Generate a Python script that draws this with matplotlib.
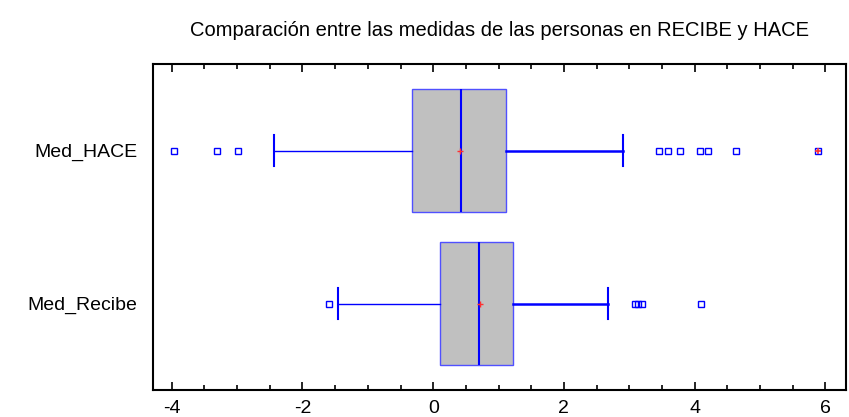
import matplotlib
matplotlib.use('Agg')
import matplotlib.pyplot as plt
from matplotlib.ticker import MultipleLocator

plt.rcParams['font.family'] = ['Liberation Sans', 'DejaVu Sans']
plt.rcParams['axes.unicode_minus'] = False

# valores (Med_Recibe abajo, Med_HACE arriba)
categorias = ['Med_Recibe', 'Med_HACE']
q1 = [0.10, -0.33]
mediana = [0.70, 0.42]
q3 = [1.22, 1.12]
bigote_inf = [-1.46, -2.44]
bigote_sup = [2.67, 2.91]
media = [0.71, 0.41]
atipicos = [
    [-1.60, 3.08, 3.13, 3.20, 4.09],
    [-3.96, -3.31, -2.99, 3.45, 3.60, 3.77, 4.08, 4.20, 4.64, 5.89],
]
muy_atipicos = [[], [5.89]]

stats = []
for i in range(len(categorias)):
    stats.append({'label': categorias[i], 'q1': q1[i], 'med': mediana[i], 'q3': q3[i],
                  'whislo': bigote_inf[i], 'whishi': bigote_sup[i],
                  'mean': media[i], 'fliers': atipicos[i]})

fig = plt.figure(figsize=(8.49, 4.17), dpi=100)
ax = fig.add_axes([0.180, 0.0647, 0.816, 0.7813])

azul = '#0000ff'
bp = ax.bxp(stats, positions=[1, 2], vert=False, widths=0.8, patch_artist=True,
            showmeans=True, capwidths=0.2,
            boxprops=dict(facecolor='#c0c0c0', edgecolor='#5050ff', linewidth=1.0),
            medianprops=dict(color=azul, linewidth=1.5),
            whiskerprops=dict(color=azul, linewidth=1.0),
            capprops=dict(color=azul, linewidth=1.5),
            flierprops=dict(marker='s', markersize=4, markerfacecolor='none',
                            markeredgecolor=azul, markeredgewidth=1.0),
            meanprops=dict(marker='+', markersize=5, markeredgecolor='#ff3030',
                           markeredgewidth=1.0))
# bigote derecho algo mas grueso
for w in bp['whiskers'][1::2]:
    w.set_linewidth(1.8)

for i in range(len(categorias)):
    if muy_atipicos[i]:
        ax.plot(muy_atipicos[i], [i + 1] * len(muy_atipicos[i]), linestyle='none',
                marker='+', markersize=5, markeredgecolor='#ff3030', markeredgewidth=1.2)

ax.set_xlim(-4.29, 6.31)
ax.set_ylim(0.436, 2.565)
ax.xaxis.set_major_locator(MultipleLocator(2))
ax.xaxis.set_minor_locator(MultipleLocator(0.5))
ax.tick_params(axis='x', which='both', direction='in', top=True, bottom=True, labelsize=14, pad=7)
ax.tick_params(axis='x', which='major', length=6, width=1.2)
ax.tick_params(axis='x', which='minor', length=3.5, width=1.2)
ax.tick_params(axis='y', length=0, labelsize=14, pad=11)
for s in ax.spines.values():
    s.set_linewidth(1.5)

ax.set_title('Comparación entre las medidas de las personas en RECIBE y HACE',
             fontsize=14.5, pad=20)

fig.savefig('out.png', dpi=100)
